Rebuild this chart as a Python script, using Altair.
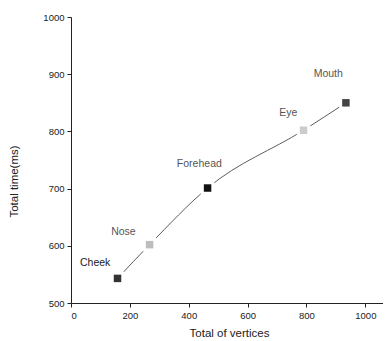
import altair as alt
import pandas as pd

# Data
parts = ["Cheek", "Nose", "Forehead", "Eye", "Mouth"]
vertices = [158, 267, 464, 790, 934]
total_time = [543, 602, 701, 802, 850]
marker_colors = ["#333333", "#bdbdbd", "#111111", "#cccccc", "#444444"]
# label anchor positions in data units
label_x = [82, 178, 436, 738, 874]
label_y = [570, 624, 743, 832, 900]
label_colors = ["#1a1a1a", "#555555", "#555555", "#555555", "#555555"]

x_ticks = list(range(0, 1100, 100))
y_ticks = list(range(500, 1001, 50))

df = pd.DataFrame({
    "part": parts, "x": vertices, "y": total_time,
    "mc": marker_colors, "lx": label_x, "ly": label_y, "lc": label_colors,
})

xs = alt.Scale(domain=[0, 1060], nice=False, zero=False)
ys = alt.Scale(domain=[500, 1000], nice=False, zero=False)

font = "Liberation Sans"

x_axis = alt.Axis(
    values=x_ticks, title="Total of vertices",
    labelExpr="datum.value % 200 === 0 ? datum.label : ''",
    tickSize={"condition": {"test": "datum.value % 200 === 0", "value": 4}, "value": 3},
    grid=False, domainColor="#222", tickColor="#222", labelColor="#222",
    labelFont=font, labelFontSize=9.5, titleFont=font, titleFontSize=11.5,
    titleFontWeight="normal", titleColor="#222", labelPadding=3, titlePadding=8,
    titleX=158,
    format="d",
)
y_axis = alt.Axis(
    values=y_ticks, title="Total time(ms)",
    labelExpr="datum.value % 100 === 0 ? datum.label : ''",
    tickSize={"condition": {"test": "datum.value % 100 === 0", "value": 4}, "value": 3},
    grid=False, domainColor="#222", tickColor="#222", labelColor="#222",
    labelFont=font, labelFontSize=9.5, titleFont=font, titleFontSize=11.5,
    titleFontWeight="normal", titleColor="#222", labelPadding=3,
    titleX=-57, titleY=164, titleBaseline="middle", titleAlign="center", titleAngle=-90,
    format="d",
)

base = alt.Chart(df)

line = base.mark_line(color="#333333", strokeWidth=0.8, interpolate="monotone").encode(
    x=alt.X("x:Q", scale=xs, axis=x_axis),
    y=alt.Y("y:Q", scale=ys, axis=y_axis),
)

halo = base.mark_point(shape="square", filled=True, size=180, color="white", opacity=1).encode(
    x=alt.X("x:Q", scale=xs), y=alt.Y("y:Q", scale=ys),
)

pts = base.mark_point(shape="square", filled=True, size=56, opacity=1).encode(
    x=alt.X("x:Q", scale=xs), y=alt.Y("y:Q", scale=ys),
    color=alt.Color("mc:N", scale=None),
)

labels = base.mark_text(font=font, fontSize=10.5, align="center", baseline="middle").encode(
    x=alt.X("lx:Q", scale=xs), y=alt.Y("ly:Q", scale=ys),
    text="part:N",
    color=alt.Color("lc:N", scale=None),
)

chart = alt.layer(line, halo, pts, labels).properties(
    width=312, height=286,
    autosize=alt.AutoSizeParams(type="none"),
    padding={"left": 63, "top": 9, "right": 0, "bottom": 36},
).configure_view(stroke=None)

chart.save("out.html", embed_options={"renderer": "svg", "actions": False})
